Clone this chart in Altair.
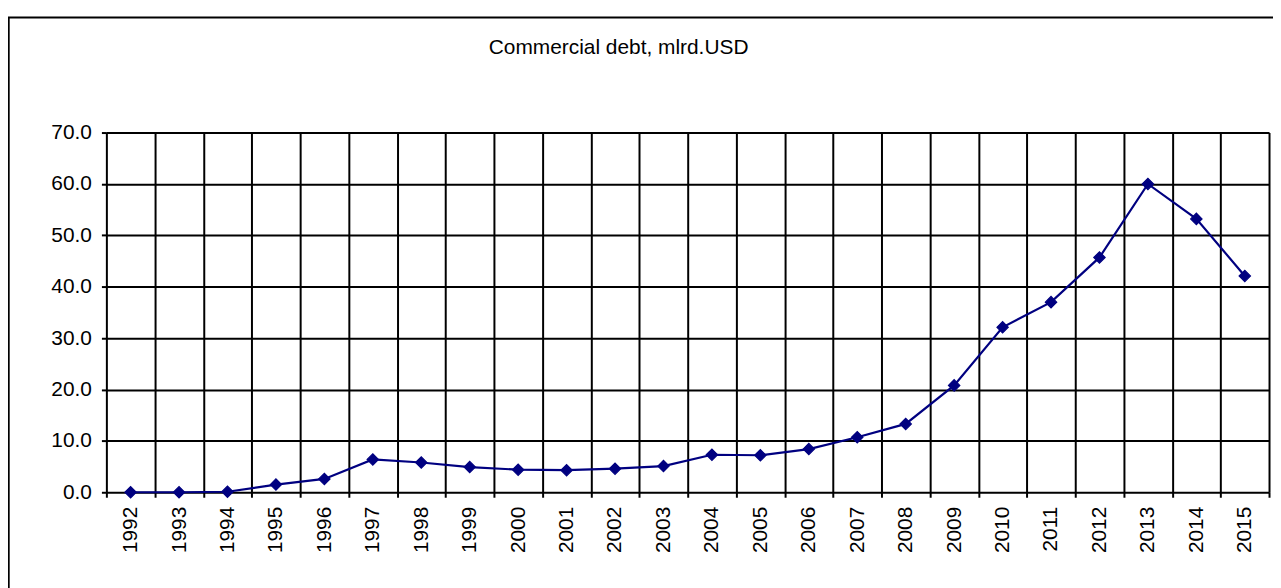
import altair as alt
import pandas as pd

years = [str(y) for y in range(1992, 2016)]
debt = [0.0, 0.0, 0.1, 1.5, 2.6, 6.4, 5.8, 4.9, 4.4, 4.3, 4.6, 5.1,
        7.3, 7.2, 8.4, 10.7, 13.3, 20.8, 32.1, 37.0, 45.7, 60.0, 53.2, 42.1]
y_ticks = [0, 10, 20, 30, 40, 50, 60, 70]
title_text = "Commercial debt, mlrd.USD"

df = pd.DataFrame({"year": years, "debt": debt})

FONT = "Liberation Sans"
NAVY = "#000080"

x_enc = alt.X(
    "year:N",
    sort=years,
    bandPosition=0.5,
    scale=alt.Scale(type="band", paddingInner=0, paddingOuter=0),
    axis=alt.Axis(
        title=None, labelAngle=-90, labelFont=FONT, labelFontSize=21,
        labelColor="black", tickBand="extent", tickSize=5, tickWidth=2,
        tickColor="black", grid=True, gridColor="black", gridWidth=2,
        domain=False, labelPadding=9,
    ),
)
y_enc = alt.Y(
    "debt:Q",
    scale=alt.Scale(domain=[0, 70], nice=False, zero=True),
    axis=alt.Axis(
        title=None, values=y_ticks, format=".1f", labelFont=FONT,
        labelFontSize=21, labelColor="black", tickSize=5, tickWidth=2,
        tickColor="black", grid=True, gridColor="black", gridWidth=2,
        domain=False, labelPadding=10,
    ),
)

base = alt.Chart(df)
line = base.mark_line(color=NAVY, strokeWidth=2.2).encode(x=x_enc, y=y_enc)
points = base.mark_point(shape="diamond", filled=True, size=130, fill=NAVY,
                         stroke=NAVY, strokeWidth=1.2,
                         opacity=1).encode(x=x_enc, y=y_enc)

frame = alt.Chart(alt.Data(values=[{}])).mark_rect(
    fillOpacity=0, stroke="black", strokeWidth=2
).encode(x=alt.value(-98.3), x2=alt.value(1200), y=alt.value(-115.8), y2=alt.value(500))

title = alt.Chart(alt.Data(values=[{}])).mark_text(
    text=title_text, font=FONT, fontSize=21, align="center",
    baseline="alphabetic", color="black"
).encode(x=alt.value(515.5), y=alt.value(-79.2))

chart = alt.layer(frame, line, points, title).properties(
    width=1170,
    height=362,
    autosize=alt.AutoSizeParams(type="none"),
    padding={"left": 99, "top": 123.5, "right": 4, "bottom": 95},
).configure_view(stroke="black", strokeWidth=2).configure(background="white")

chart.save("out.html", embed_options={"renderer": "svg", "actions": False})
